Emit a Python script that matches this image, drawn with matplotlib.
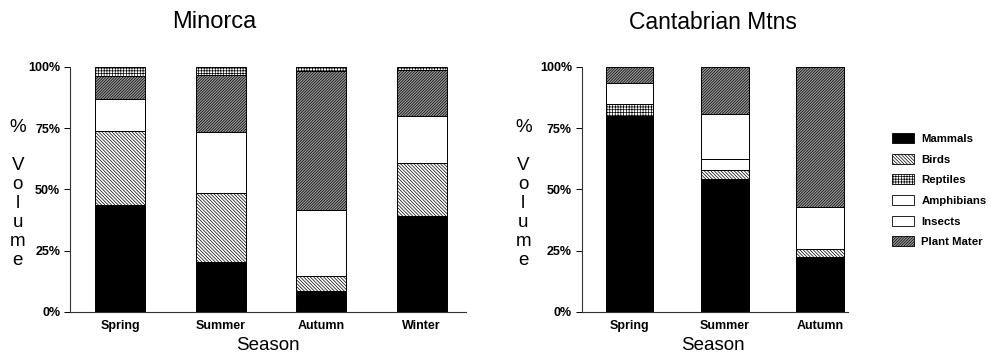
import matplotlib
matplotlib.use("Agg")
import matplotlib.pyplot as plt
from matplotlib.patches import Patch

# diet composition (% volume) by season
categories = ["Mammals", "Birds", "Reptiles", "Amphibians", "Insects", "Plant Mater"]

minorca_seasons = ["Spring", "Summer", "Autumn", "Winter"]
minorca_mammals = [43.8, 20.4, 8.4, 39.0]
minorca_birds = [30.1, 28.3, 6.2, 22.0]
minorca_reptiles = [3.7, 3.1, 1.8, 1.1]
minorca_amphibians = [0.0, 0.0, 0.0, 0.0]
minorca_insects = [12.9, 24.8, 27.2, 19.0]
minorca_plant = [9.5, 23.4, 56.4, 18.9]

cant_seasons = ["Spring", "Summer", "Autumn"]
cant_mammals = [79.9, 54.4, 22.4]
cant_birds = [0.0, 3.6, 3.5]
cant_reptiles = [4.9, 0.0, 0.0]
cant_amphibians = [0.0, 4.6, 0.0]
cant_insects = [8.8, 18.1, 17.0]
cant_plant = [6.4, 19.3, 57.1]

yticks = [0, 25, 50, 75, 100]
ytick_labels = ["0%", "25%", "50%", "75%", "100%"]

styles = {
    "Mammals": dict(facecolor="black", hatch=None),
    "Birds": dict(facecolor="white", hatch="\\" * 10),
    "Reptiles": dict(facecolor="white", hatch="+" * 6),
    "Amphibians": dict(facecolor="white", hatch=None),
    "Insects": dict(facecolor="white", hatch=None),
    "Plant Mater": dict(facecolor="#9a9a9a", hatch="/" * 12),
}

plt.rcParams["hatch.linewidth"] = 0.5
plt.rcParams["font.family"] = "Liberation Sans"

fig = plt.figure(figsize=(9.91, 3.56), dpi=100)
ax1 = fig.add_axes([0.0706, 0.1236, 0.3996, 0.6882])
ax2 = fig.add_axes([0.587, 0.1236, 0.2687, 0.6882])


def draw(ax, seasons, data, order, xmax):
    x = list(range(len(seasons)))
    bottom = [0.0] * len(seasons)
    for cat in order:
        vals = data[cat]
        st = styles[cat]
        ax.bar(x, vals, width=0.5, bottom=bottom, facecolor=st["facecolor"],
               hatch=st["hatch"], edgecolor="black", linewidth=0.7)
        bottom = [b + v for b, v in zip(bottom, vals)]
    ax.set_xlim(-0.5, xmax)
    ax.set_ylim(0, 100)
    ax.set_xticks(x)
    ax.set_xticklabels(seasons, fontsize=9, fontweight="bold")
    ax.set_yticks(yticks)
    ax.set_yticklabels(ytick_labels, fontsize=9, fontweight="bold")
    ax.tick_params(axis="x", length=0, pad=6)
    ax.tick_params(axis="y", length=4, width=0.7, pad=3)
    for s in ["top", "right"]:
        ax.spines[s].set_visible(False)
    for s in ["left", "bottom"]:
        ax.spines[s].set_linewidth(0.8)
        ax.spines[s].set_color("#333333")


minorca = {"Mammals": minorca_mammals, "Birds": minorca_birds, "Reptiles": minorca_reptiles,
           "Amphibians": minorca_amphibians, "Insects": minorca_insects, "Plant Mater": minorca_plant}
cant = {"Mammals": cant_mammals, "Birds": cant_birds, "Reptiles": cant_reptiles,
        "Amphibians": cant_amphibians, "Insects": cant_insects, "Plant Mater": cant_plant}

draw(ax1, minorca_seasons, minorca,
     ["Mammals", "Birds", "Amphibians", "Insects", "Plant Mater", "Reptiles"], 3.44)
draw(ax2, cant_seasons, cant, categories, 2.29)

# titles and axis labels
fig.text(0.216, 0.938, "Minorca", fontsize=17, ha="center", va="center")
fig.text(0.719, 0.938, "Cantabrian Mtns", fontsize=16.5, ha="center", va="center")
fig.text(0.27, 0.03, "Season", fontsize=13.5, ha="center", va="center")
fig.text(0.719, 0.03, "Season", fontsize=13.5, ha="center", va="center")
for xp in [0.018, 0.528]:
    fig.text(xp, 0.455, "%\n\nV\no\nl\nu\nm\ne", fontsize=13.5, ha="center", va="center",
             linespacing=1.15, multialignment="center")

# legend
handles = [Patch(facecolor=styles[c]["facecolor"], hatch=styles[c]["hatch"],
                 edgecolor="black", linewidth=0.6, label=c) for c in categories]
leg = fig.legend(handles=handles, loc="center left", bbox_to_anchor=(0.894, 0.466),
                 frameon=False, prop=dict(size=8.2, weight="bold"), handlelength=2.0,
                 handleheight=1.0, labelspacing=0.85, handletextpad=0.6, borderpad=0)

fig.savefig("out.png", dpi=100)
